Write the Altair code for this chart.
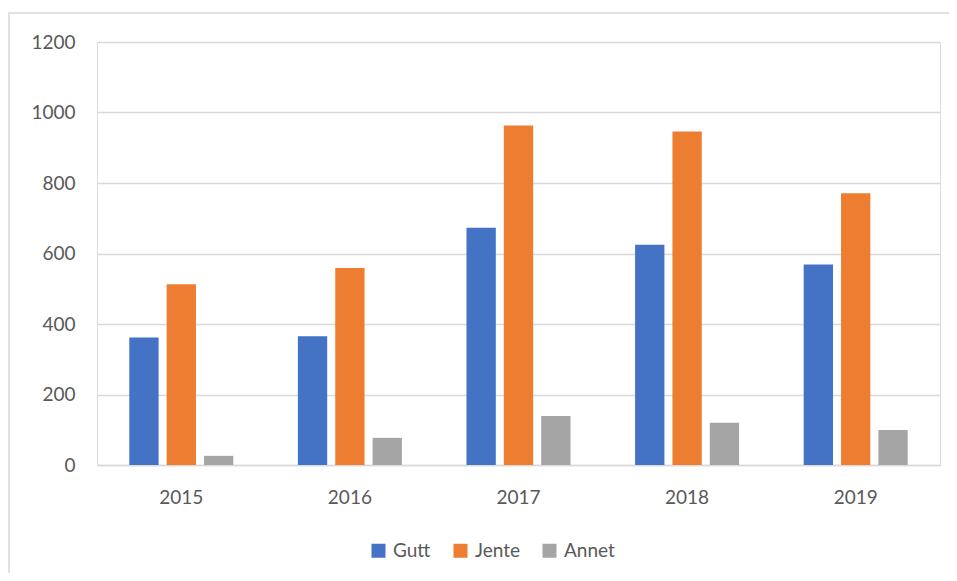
import altair as alt
import pandas as pd

years = ["2015", "2016", "2017", "2018", "2019"]
series = ["Gutt", "Jente", "Annet"]
gutt = [362, 365, 673, 625, 569]
jente = [513, 559, 963, 946, 771]
annet = [26, 77, 139, 120, 99]
colors = ["#4472C4", "#ED7D31", "#A5A5A5"]
y_ticks = [0, 200, 400, 600, 800, 1000, 1200]

rows = []
for i, yr in enumerate(years):
    for s, vals in zip(series, [gutt, jente, annet]):
        rows.append({"year": yr, "series": s, "value": vals[i]})
df = pd.DataFrame(rows)

FONT = "Lato"
TXT = "#595959"
FS = 19

bars = alt.Chart(df).mark_bar().encode(
    x=alt.X("year:N", sort=years, title=None,
            scale=alt.Scale(paddingInner=0.383, paddingOuter=0.1915),
            axis=alt.Axis(labelAngle=0, ticks=False, labelPadding=23,
                          domainColor="#d9d9d9", domainWidth=1.3,
                          labelFont=FONT, labelFontSize=FS, labelColor=TXT)),
    xOffset=alt.XOffset("series:N", sort=series,
                        scale=alt.Scale(paddingInner=0.215, paddingOuter=0)),
    y=alt.Y("value:Q", title=None,
            scale=alt.Scale(domain=[0, 1200], nice=False),
            axis=alt.Axis(values=y_ticks, format="d", ticks=False, domain=False,
                          labelPadding=22, gridColor="#d9d9d9", gridWidth=1.3,
                          labelFont=FONT, labelFontSize=FS, labelColor=TXT)),
    color=alt.Color("series:N", sort=series,
                    scale=alt.Scale(domain=series, range=colors),
                    legend=alt.Legend(title=None, orient="none", direction="horizontal",
                                      legendX=272, legendY=499, symbolType="square",
                                      symbolSize=196, symbolStrokeWidth=0,
                                      labelFont=FONT, labelFontSize=FS, labelColor=TXT,
                                      labelOffset=5, columnPadding=20, padding=0)),
)

border = alt.Chart(pd.DataFrame({"a": [0]})).mark_rect(
    fill="white", fillOpacity=0, stroke="#d9d9d9", strokeWidth=1.5
).encode(
    x=alt.value(-88), x2=alt.value(900), y=alt.value(-29), y2=alt.value(620)
)

chart = alt.layer(border, bars).properties(
    width=843, height=423,
    padding={"left": 89, "top": 34, "right": 9, "bottom": 108},
    autosize=alt.AutoSizeParams(type="none"),
).configure_view(stroke=None).configure(background="white")

chart.save("out.html", embed_options={"renderer": "svg", "actions": False})
